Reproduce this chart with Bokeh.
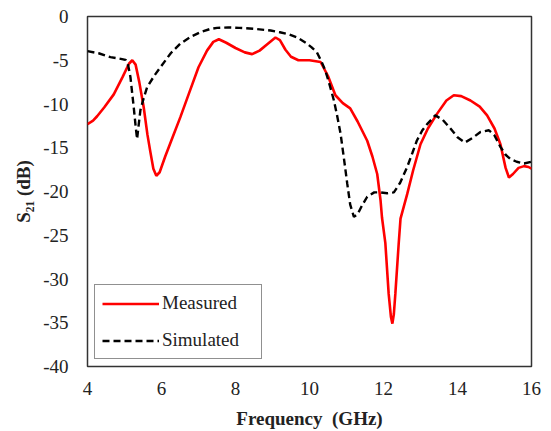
from bokeh.plotting import figure
from bokeh.models import Legend, LegendItem, FixedTicker
from bokeh.embed import file_html
from bokeh.resources import INLINE

meas_f = [4.00, 4.15, 4.26, 4.45, 4.71, 4.95, 5.12, 5.21, 5.30, 5.40, 5.52, 5.62, 5.70, 5.78, 5.86,
          5.95, 6.10, 6.30, 6.51, 6.75, 7.00, 7.23, 7.40, 7.55, 7.75, 8.00, 8.25, 8.45, 8.65, 8.85,
          9.08, 9.20, 9.35, 9.50, 9.70, 10.00, 10.30, 10.50, 10.70, 10.90, 11.10, 11.30, 11.56, 11.70,
          11.83, 11.92, 11.96, 12.05, 12.14, 12.20, 12.24, 12.28, 12.32, 12.41, 12.46, 12.55, 12.64,
          12.80, 13.00, 13.20, 13.45, 13.70, 13.90, 14.10, 14.35, 14.60, 14.80, 15.00, 15.16, 15.30,
          15.39, 15.50, 15.65, 15.80, 15.92, 16.00]
meas_db = [-12.3, -11.9, -11.4, -10.4, -8.9, -6.9, -5.4, -5.0, -5.5, -7.5, -10.4, -13.5, -15.5, -17.4, -18.2,
           -17.8, -16.0, -13.8, -11.5, -8.7, -5.8, -3.9, -2.9, -2.6, -3.0, -3.6, -4.1, -4.3, -3.9, -3.2,
           -2.4, -2.7, -3.8, -4.6, -5.0, -5.0, -5.2, -6.8, -9.0, -9.9, -10.5, -12.0, -14.2, -16.0,
           -18.0, -21.0, -23.0, -25.9, -31.7, -34.3, -35.1, -34.0, -31.7, -26.0, -23.1, -21.7, -20.3,
           -17.6, -14.6, -12.8, -11.1, -9.6, -9.0, -9.1, -9.6, -10.3, -11.3, -12.8, -14.6, -17.3,
           -18.4, -18.0, -17.3, -17.1, -17.2, -17.4]

sim_f = [4.00, 4.30, 4.62, 4.85, 5.03, 5.10, 5.16, 5.25, 5.30, 5.34, 5.38, 5.43, 5.52, 5.61, 5.80,
         5.97, 6.25, 6.51, 6.80, 7.05, 7.30, 7.50, 7.80, 8.10, 8.49, 8.95, 9.20, 9.45, 9.67, 9.90,
         10.05, 10.20, 10.33, 10.43, 10.55, 10.66, 10.75, 10.84, 10.93, 11.02, 11.10, 11.20, 11.30,
         11.42, 11.56, 11.75, 11.92, 12.10, 12.28, 12.45, 12.64, 12.78, 12.90, 13.05, 13.18, 13.40,
         13.60, 13.81, 14.00, 14.20, 14.40, 14.62, 14.85, 15.00, 15.16, 15.30, 15.43, 15.60, 15.80, 16.00]
sim_db = [-3.96, -4.2, -4.65, -4.8, -4.95, -5.6, -6.9, -10.4, -12.5, -14.0, -12.5, -10.7, -9.3, -8.1, -6.8,
          -5.8, -4.2, -3.1, -2.3, -1.8, -1.45, -1.3, -1.25, -1.3, -1.4, -1.6, -1.8, -2.05, -2.4, -3.0,
          -3.5, -4.1, -5.2, -6.2, -7.9, -9.6, -11.4, -13.4, -16.2, -19.1, -21.5, -22.9, -22.6,
          -21.6, -20.6, -20.1, -20.1, -20.2, -20.1, -19.0, -17.2, -15.6, -14.2, -13.0, -12.3, -11.3,
          -11.8, -12.8, -13.8, -14.4, -13.9, -13.2, -13.0, -13.6, -14.9, -15.8, -16.3, -16.6, -16.8, -16.6]

x_ticks = [4, 6, 8, 10, 12, 14, 16]
y_ticks = [0, -5, -10, -15, -20, -25, -30, -35, -40]
y_tick_labels = ["0", "-5", "-10", "-15", "-20", "-25", "-30", "-35", "-40"]
series_names = ["Measured", "Simulated"]

FONT = "Liberation Serif"

p = figure(frame_width=444, frame_height=350, x_range=(4, 16), y_range=(-40, 0),
           output_backend="svg", toolbar_location=None,
           min_border_left=87, min_border_right=20, min_border_top=16, min_border_bottom=65)
p.grid.visible = False
p.outline_line_color = "#333333"
p.outline_line_width = 1.5
p.background_fill_color = "white"
p.border_fill_color = "white"

r1 = p.line(meas_f, meas_db, line_color="#ff0000", line_width=2.6)
r2 = p.line(sim_f, sim_db, line_color="black", line_width=2.4, line_dash="7 4")

p.xaxis.ticker = FixedTicker(ticks=x_ticks)
p.yaxis.ticker = FixedTicker(ticks=y_ticks)
p.yaxis.major_label_overrides = {t: lab for t, lab in zip(y_ticks, y_tick_labels)}
for ax in (p.xaxis[0], p.yaxis[0]):
    ax.major_tick_out = 0
    ax.major_tick_in = 0
    ax.minor_tick_out = 0
    ax.minor_tick_in = 0
    ax.axis_line_color = None
    ax.major_label_text_font = FONT
    ax.major_label_text_font_size = "19px"
    ax.major_label_text_color = "#222222"
    ax.axis_label_text_font = FONT
    ax.axis_label_text_font_size = "19px"
    ax.axis_label_text_font_style = "bold"
    ax.axis_label_text_color = "#222222"

p.xaxis.axis_label = "Frequency\u00a0\u00a0(GHz)"
p.xaxis.major_label_standoff = 15
p.xaxis.axis_label_standoff = 10
p.yaxis.axis_label = "S\u2082\u2081 (dB)"
p.yaxis.major_label_standoff = 19
p.yaxis.axis_label_standoff = 6

legend = Legend(items=[LegendItem(label=series_names[0], renderers=[r1]),
                       LegendItem(label=series_names[1], renderers=[r2])],
                location=(7, 7), margin=0, padding=7, spacing=15,
                glyph_width=57, glyph_height=21, label_standoff=3, label_width=92,
                label_text_font=FONT, label_text_font_size="19px", label_text_color="#222222",
                border_line_color="#222222", border_line_width=1.2,
                background_fill_color="white", background_fill_alpha=1.0)
p.add_layout(legend, "center")

open("out.html", "w").write(file_html(p, INLINE))
